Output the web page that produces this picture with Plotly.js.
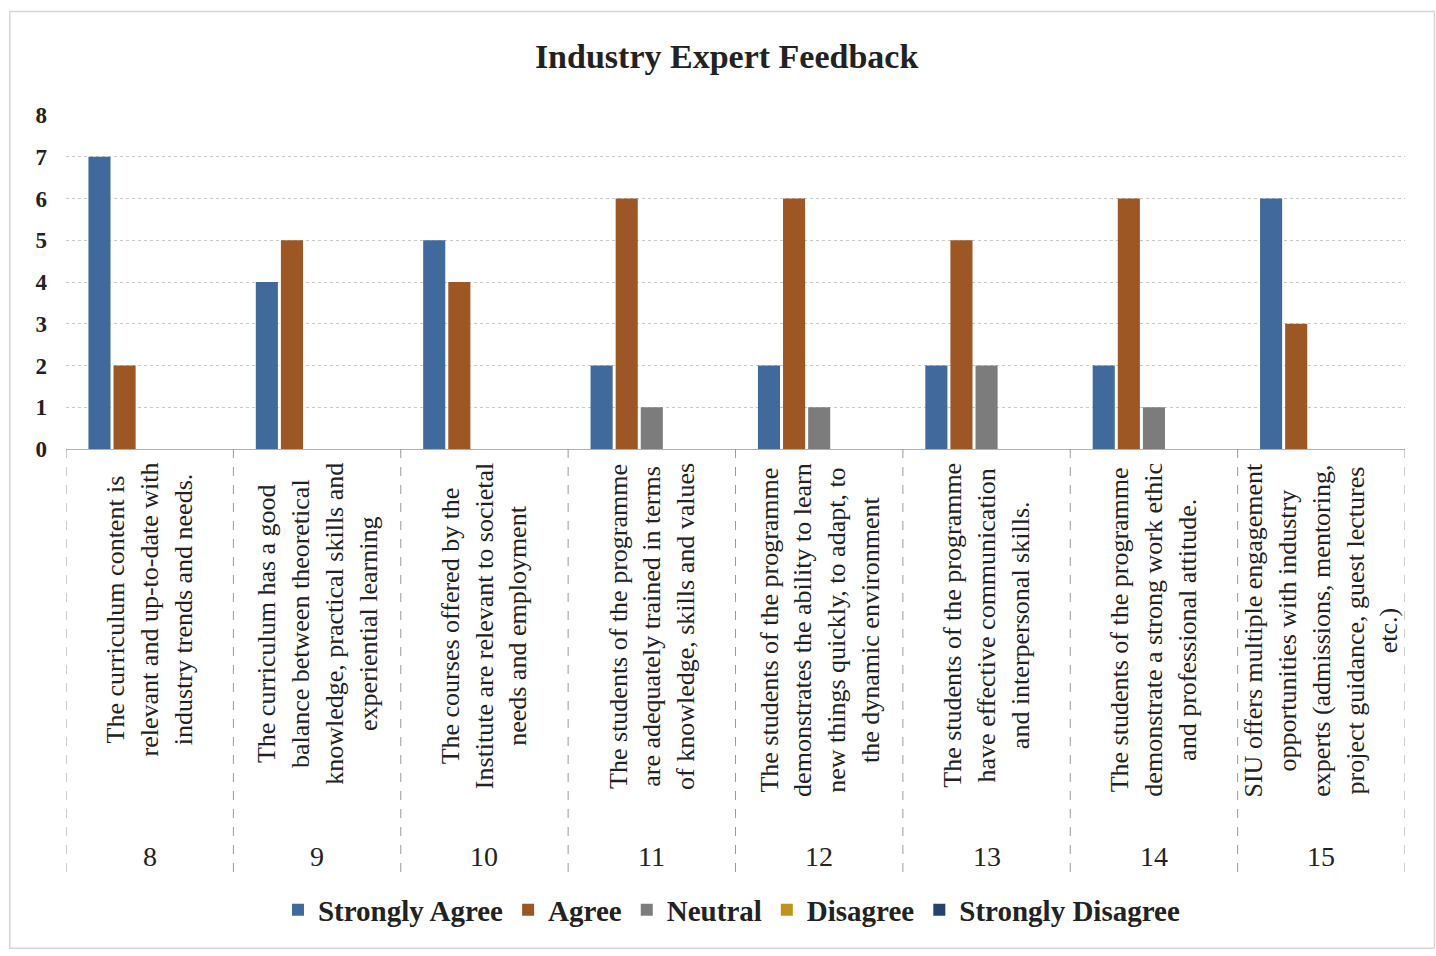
<!DOCTYPE html>
<html>
<head>
<meta charset="utf-8">
<script src="https://cdn.plot.ly/plotly-3.0.1.min.js"></script>
<style>html,body{margin:0;padding:0;background:#fff;}#chart{width:1436px;height:956px;}</style>
</head>
<body>
<div id="chart"></div>
<script>
const questionNumbers = ['8', '9', '10', '11', '12', '13', '14', '15'];
const questionLabels = [
  'The curriculum content is<br>relevant and up-to-date with<br>industry trends and needs.',
  'The curriculum has a good<br>balance between theoretical<br>knowledge, practical skills and<br>experiential learning',
  'The courses offered by the<br>Institute are relevant to societal<br>needs and employment',
  'The students of the programme<br>are adequately trained in terms<br>of knowledge, skills and values',
  'The students of the programme<br>demonstrates the ability to learn<br>new things quickly, to adapt, to<br>the dynamic environment',
  'The students of the programme<br>have effective communication<br>and interpersonal skills.',
  'The students of the programme<br>demonstrate a strong work ethic<br>and professional attitude.',
  'SIU offers multiple engagement<br>opportunities with industry<br>experts (admissions, mentoring,<br>project guidance, guest lectures<br>etc.)'
];
const seriesNames = ['Strongly Agree', 'Agree', 'Neutral', 'Disagree', 'Strongly Disagree'];
const stronglyAgree = [7, 4, 5, 2, 2, 2, 2, 6];
const agree = [2, 5, 4, 6, 6, 5, 6, 3];
const neutral = [0, 0, 0, 1, 1, 2, 1, 0];
const disagree = [0, 0, 0, 0, 0, 0, 0, 0];
const stronglyDisagree = [0, 0, 0, 0, 0, 0, 0, 0];
const yTicks = [0, 1, 2, 3, 4, 5, 6, 7, 8];

const seriesValues = [stronglyAgree, agree, neutral, disagree, stronglyDisagree];
const colors = ['#3F6A9B', '#9C5724', '#7C7C7C', '#C3921E', '#26436F'];
const serif = '"Liberation Serif", "Times New Roman", serif';

const xIdx = questionNumbers.map((_, i) => i);

const data = seriesValues.map((vals, k) => ({
  type: 'bar',
  name: seriesNames[k],
  x: xIdx,
  y: vals,
  marker: {color: colors[k]},
  hoverinfo: 'x+y+name'
}));

const annotations = [];
questionLabels.forEach((lbl, i) => {
  annotations.push({
    x: i, xref: 'x', y: -0.035, yref: 'paper',
    text: lbl, textangle: -90, showarrow: false,
    xanchor: 'center', yanchor: 'top', align: 'center',
    font: {family: serif, size: 26, color: '#222'}
  });
  annotations.push({
    x: i, xref: 'x', y: -1.22, yref: 'paper',
    text: questionNumbers[i], showarrow: false,
    xanchor: 'center', yanchor: 'middle',
    font: {family: serif, size: 28, color: '#222'}
  });
});

const shapes = [];
for (let i = 0; i <= questionNumbers.length; i++) {
  shapes.push({
    type: 'line', xref: 'x', yref: 'paper',
    x0: i - 0.5, x1: i - 0.5, y0: 0, y1: -1.285,
    line: {color: '#9a9a9a', width: 1, dash: 'dash'}
  });
}
shapes.push({
  type: 'rect', xref: 'paper', yref: 'paper',
  x0: -0.042, x1: 1.022, y0: -1.495, y1: 1.31,
  line: {color: '#d6d6d6', width: 1.5}
});

const layout = {
  width: 1436, height: 956,
  margin: {l: 66, r: 31, t: 115, b: 507},
  paper_bgcolor: '#ffffff', plot_bgcolor: '#ffffff',
  title: {
    text: 'Industry Expert Feedback',
    font: {family: serif, size: 34, color: '#222', weight: 'bold'},
    x: 0.506, xref: 'container', xanchor: 'center',
    y: 1 - 56 / 956, yref: 'container', yanchor: 'middle'
  },
  barmode: 'group', bargap: 0.25, bargroupgap: 0.12,
  xaxis: {
    range: [-0.5, questionNumbers.length - 0.5],
    showticklabels: false, showgrid: false, zeroline: false,
    showline: false, ticks: ''
  },
  yaxis: {
    range: [0, 8], tickvals: yTicks, ticktext: yTicks.map(String),
    showgrid: true, gridcolor: '#c8c8c8', griddash: 'dot', gridwidth: 1,
    zeroline: true, zerolinecolor: '#b0b0b0', zerolinewidth: 1,
    showline: false, ticks: '', ticklabelstandoff: 18,
    tickfont: {family: serif, size: 23, color: '#222', weight: 'bold'}
  },
  legend: {
    orientation: 'h', x: 0.497, xanchor: 'center', y: -1.38, yanchor: 'middle',
    font: {family: serif, size: 29, color: '#222', weight: 'bold'},
    itemwidth: 30, tracegroupgap: 0
  },
  showlegend: true,
  annotations: annotations,
  shapes: shapes
};

Plotly.newPlot('chart', data, layout, {displayModeBar: false, staticPlot: false});
</script>
</body>
</html>
